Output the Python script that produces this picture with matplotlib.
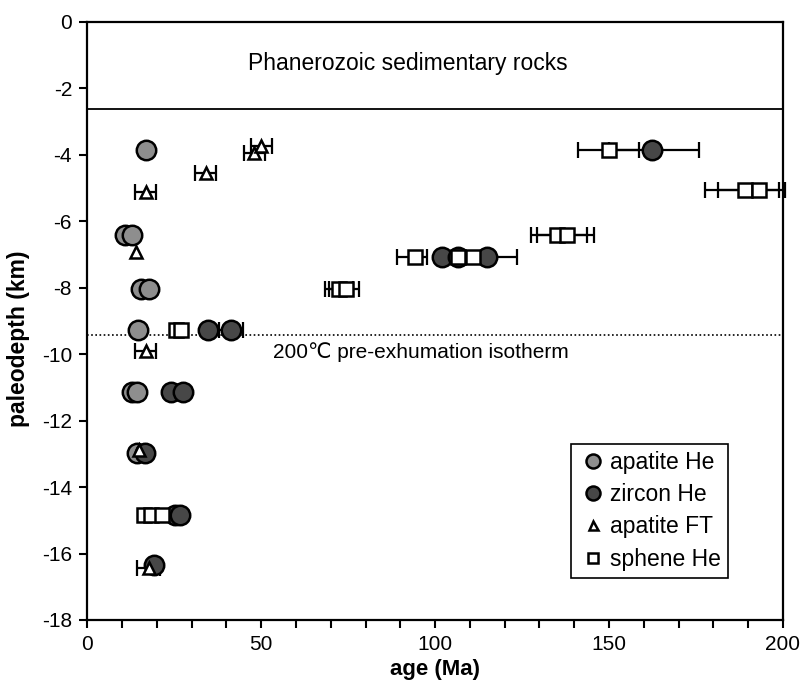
import matplotlib
matplotlib.use("Agg")
import matplotlib.pyplot as plt
import numpy as np

plt.rcParams['font.family'] = ['Liberation Sans', 'DejaVu Sans']
plt.rcParams['axes.unicode_minus'] = False

# apatite He (gray circles)
ahe_age = [16.8, 10.8, 12.8, 15.5, 17.8, 14.5, 12.8, 14.2, 14.2]
ahe_depth = [-3.85, -6.42, -6.42, -8.05, -8.05, -9.27, -11.15, -11.15, -12.98]

# zircon He (dark circles); error lo/hi in Ma (0 = no bar)
zhe_age = [162.5, 102.0, 106.5, 115.0, 34.6, 41.3, 24.0, 27.5, 16.6, 25.2, 26.7, 19.2]
zhe_depth = [-3.85, -7.07, -7.07, -7.07, -9.27, -9.27, -11.15, -11.15, -12.98, -14.85, -14.85, -16.34]
zhe_err_lo = [12.5, 0, 0, 8.5, 0, 3.4, 0, 0, 0, 0, 0, 0]
zhe_err_hi = [13.5, 0, 0, 8.5, 0, 3.4, 0, 0, 0, 0, 0, 0]

# apatite FT (triangles)
aft_age = [16.8, 34.0, 48.0, 50.0, 14.0, 16.8, 14.9, 17.6]
aft_depth = [-5.13, -4.56, -3.95, -3.75, -6.92, -9.92, -12.88, -16.44]
aft_err_lo = [3.0, 3.0, 3.0, 3.0, 0, 3.0, 0, 3.4]
aft_err_hi = [3.0, 3.0, 3.0, 3.0, 0, 3.0, 0, 3.4]

# sphene He (squares)
she_age = [150.0, 189.0, 193.0, 135.0, 138.0, 94.3, 106.7, 111.0, 72.5, 74.5, 25.5, 27.0, 16.2, 18.3, 21.4]
she_depth = [-3.85, -5.05, -5.05, -6.42, -6.42, -7.07, -7.07, -7.07, -8.05, -8.05, -9.27, -9.27, -14.85, -14.85, -14.85]
she_err_lo = [9.0, 11.4, 11.6, 7.5, 8.7, 5.3, 0, 0, 4.1, 5.1, 0, 0, 0, 0, 0]
she_err_hi = [8.5, 10.0, 7.6, 8.8, 7.8, 3.4, 0, 0, 4.0, 3.5, 0, 0, 0, 0, 0]

fig = plt.figure(figsize=(8.04, 6.85), dpi=100)
ax = fig.add_axes([0.1086, 0.0949, 0.8651, 0.8734])


def errs(age, depth, lo, hi):
    a = np.array(age); d = np.array(depth)
    lo = np.array(lo); hi = np.array(hi)
    m = (lo + hi) > 0
    _, caps, bars = ax.errorbar(a[m], d[m], xerr=[lo[m], hi[m]], fmt='none', ecolor='black',
                                elinewidth=1.6, capsize=5.5, capthick=1.6, zorder=2)
    for c in caps:
        c.set_clip_on(False)
    for b in bars:
        b.set_clip_on(False)

errs(zhe_age, zhe_depth, zhe_err_lo, zhe_err_hi)
errs(aft_age, aft_depth, aft_err_lo, aft_err_hi)
errs(she_age, she_depth, she_err_lo, she_err_hi)

ax.plot(ahe_age, ahe_depth, 'o', ms=14, mfc='#8e8e8e', mec='black', mew=1.8,
        ls='none', zorder=3, label='apatite He')
ax.plot(zhe_age, zhe_depth, 'o', ms=14, mfc='#474747', mec='black', mew=1.8,
        ls='none', zorder=3, label='zircon He')
ax.plot(aft_age, aft_depth, '^', ms=9, mfc='white', mec='black', mew=1.8,
        ls='none', zorder=4, label='apatite FT')
ax.plot(she_age, she_depth, 's', ms=10, mfc='white', mec='black', mew=1.8,
        ls='none', zorder=4, label='sphene He')

ax.axhline(-2.63, color='black', lw=1.3, zorder=1)
ax.axhline(-9.42, color='black', lw=1.2, ls=(0, (1, 1.5)), zorder=1)

ax.text(46.2, -1.27, 'Phanerozoic sedimentary rocks', ha='left', va='center', fontsize=16.5)
ax.text(53.3, -9.95, '200\u2103 pre-exhumation isotherm', ha='left', va='center', fontsize=15,
        family=['Liberation Sans', 'DejaVu Sans', 'Noto Sans CJK SC'])

ax.set_xlim(0, 200)
ax.set_ylim(-18, 0)
ax.set_xticks([0, 50, 100, 150, 200])
ax.set_xticks(np.arange(0, 201, 10), minor=True)
ax.set_yticks(np.arange(-18, 1, 2))
ax.tick_params(axis='both', which='major', direction='out', length=6, width=1.5, labelsize=15, pad=5)
ax.tick_params(axis='x', which='minor', direction='out', length=6, width=1.5)
for s in ax.spines.values():
    s.set_linewidth(1.6)

ax.set_xlabel('age (Ma)', fontsize=16, fontweight='bold')
ax.set_ylabel('paleodepth (km)', fontsize=16.5, fontweight='bold')
ax.xaxis.set_label_coords(0.5, -0.066)
ax.yaxis.set_label_coords(-0.082, 0.47)

leg = ax.legend(loc='lower right', bbox_to_anchor=(0.921, 0.071), fontsize=16.5,
                frameon=True, fancybox=False, edgecolor='black', framealpha=1,
                handletextpad=0.1, handlelength=1.3, borderpad=0.3, labelspacing=0.4,
                markerscale=0.72, borderaxespad=0)
leg.get_frame().set_linewidth(1.2)

fig.savefig('out.png', dpi=100)
